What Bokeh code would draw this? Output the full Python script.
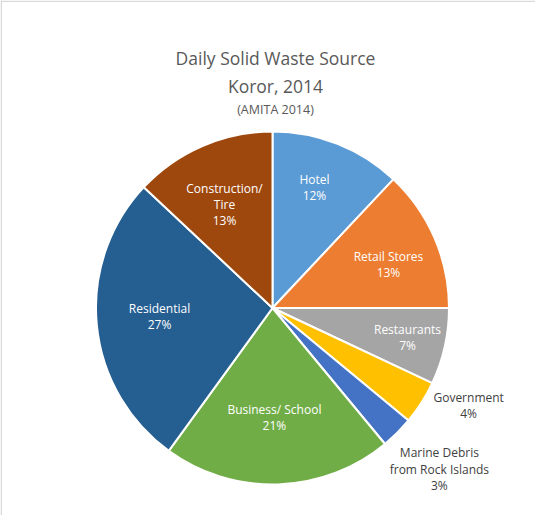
import numpy as np
from bokeh.plotting import figure
from bokeh.models import ColumnDataSource, Range1d, Label, Span
from bokeh.core.properties import value
from bokeh.embed import file_html
from bokeh.resources import INLINE

# ---- data ----
categories = ["Hotel", "Retail Stores", "Restaurants", "Government",
              "Marine Debris\nfrom Rock Islands", "Business/ School",
              "Residential", "Construction/\nTire"]
shares = [12, 13, 7, 4, 3, 21, 27, 13]
colors = ["#5B9BD5", "#ED7D31", "#A5A5A5", "#FFC000",
          "#4472C4", "#70AD47", "#255E91", "#9E480E"]
label_colors = ["white", "white", "white", "#404040",
                "#404040", "white", "white", "white"]
# label placement styling (radial distance in px, angle tweak in deg)
label_r = [127.6, 123.9, 138.2, 219, 232, 109.5, 113.3, 114]
label_da = [2.4, -2.8, 0.3, 6.0, 1.0, -0.8, -1.1, 1.5]

W, H = 535, 515
cx, cy, R = 272, 207.5, 176.5

vals = np.array(shares, dtype=float)
frac = vals / vals.sum()
cum = np.concatenate([[0], np.cumsum(frac)])
start = np.pi / 2 - cum[1:] * 2 * np.pi
end = np.pi / 2 - cum[:-1] * 2 * np.pi
mid = (start + end) / 2
la = mid + np.radians(label_da)
lx = cx + np.array(label_r) * np.cos(la)
ly = cy + np.array(label_r) * np.sin(la)
texts = [f"{c}\n{int(round(f * 100))}%" for c, f in zip(categories, frac)]

src = ColumnDataSource(dict(start=start, end=end, color=colors,
                            x=[cx] * len(vals), y=[cy] * len(vals)))
lsrc = ColumnDataSource(dict(x=lx, y=ly, text=texts, color=label_colors))

p = figure(width=W, height=H, output_backend="svg", toolbar_location=None,
           x_range=Range1d(0, W), y_range=Range1d(0, H), min_border=0)
p.axis.visible = False
p.grid.visible = False
p.outline_line_color = None
p.background_fill_color = "white"
p.border_fill_color = "white"

p.wedge(x="x", y="y", radius=R, radius_units="screen",
        start_angle="start", end_angle="end", fill_color="color",
        line_color="white", line_width=2, source=src)

p.text(x="x", y="y", text="text", source=lsrc, text_color="color",
       text_font=value("Open Sans"), text_font_size="12px",
       text_align="center", text_baseline="middle", text_line_height=0.96)

for txt, ty, fs in [("Daily Solid Waste Source", 458, "17.5px"),
                    ("Koror, 2014", 429.5, "17.5px"),
                    ("(AMITA 2014)", 406, "12.5px")]:
    p.add_layout(Label(x=275, y=ty, text=txt, text_align="center",
                       text_baseline="middle", text_color="#595959",
                       text_font="Open Sans", text_font_size=fs))

p.add_layout(Span(location=0.75, dimension="height",
                  line_color="#D9D9D9", line_width=1.5))
p.add_layout(Span(location=H - 0.75, dimension="width",
                  line_color="#D9D9D9", line_width=1.5))

open("out.html", "w").write(file_html(p, INLINE))
